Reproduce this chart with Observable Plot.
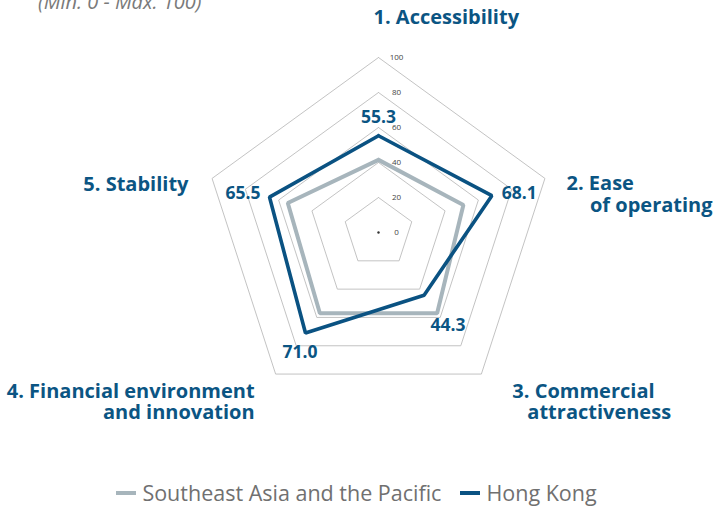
<!DOCTYPE html>
<html>
<head>
<meta charset="utf-8">
<script src="https://cdn.jsdelivr.net/npm/d3@7"></script>
<script src="https://cdn.jsdelivr.net/npm/@observablehq/plot@0.6"></script>
<style>
  html, body { margin: 0; padding: 0; background: #fff; }
  body { width: 713px; height: 508px; position: relative; overflow: hidden; font-family: "Open Sans", sans-serif; }
  #subtitle { position: absolute; left: 38px; top: -8px; font-size: 20px; font-style: italic; color: #7a7a7a; line-height: 20px; white-space: nowrap; }
  #legend { position: absolute; left: 0; top: 480px; width: 713px; height: 26px; display: flex; justify-content: center; align-items: center; gap: 19px; font-size: 21.5px; line-height: 26px; color: #707070; }
  #legend .item { display: flex; align-items: center; gap: 6px; }
  #legend .sw { width: 20px; height: 4px; display: inline-block; }
</style>
</head>
<body>
<div id="subtitle">(Min. 0 - Max. 100)</div>
<div id="chart"></div>
<div id="legend"></div>
<script>
// ---- data ----
const axes = ["1. Accessibility", "2. Ease of operating", "3. Commercial attractiveness", "4. Financial environment and innovation", "5. Stability"];
const seriesNames = ["Southeast Asia and the Pacific", "Hong Kong"];
const seaValues = [41.5, 51, 57, 57, 54.5];
const hkValues = [55.3, 68.1, 44.3, 71.0, 65.5];
const hkLabels = ["55.3", "68.1", "44.3", "71.0", "65.5"];
const gridLevels = [0, 20, 40, 60, 80, 100];
const tickLabels = ["0", "20", "40", "60", "80", "100"];

// ---- layout ----
const W = 713, H = 470, CX = 378, CY = 232, K = 1.75;
const colors = {"Southeast Asia and the Pacific": "#a7b5bc", "Hong Kong": "#0a5282"};
const labelBlue = "#0b5583";
const n = axes.length;
const ang = i => i * 2 * Math.PI / n;
const px = (i, v) => v * Math.sin(ang(i));
const py = (i, v) => v * Math.cos(ang(i));

function ring(values, key) {
  const pts = [];
  for (let i = 0; i <= n; i++) {
    const k = i % n;
    pts.push({x: px(k, values[k]), y: py(k, values[k]), key});
  }
  return pts;
}

const gridData = gridLevels.filter(l => l > 0).flatMap(l => ring(Array(n).fill(l), l));
const seriesData = [
  ...ring(seaValues, seriesNames[0]),
  ...ring(hkValues, seriesNames[1])
];

// axis title lines: axis index, text, anchor, dx, dy (pixel offsets from the 100-vertex)
const titleLines = [
  [0, "1. Accessibility", "start", -5, -40],
  [1, "2. Ease", "start", 21.6, 5],
  [1, "of operating", "end", 167.6, 27],
  [2, "3. Commercial", "start", 31, 18],
  [2, "attractiveness", "start", 46, 39],
  [3, "4. Financial environment", "end", -21, 18],
  [3, "and innovation", "end", -21, 39],
  [4, "5. Stability", "end", -23.6, 6]
];
// value label offsets from Hong Kong points
const valueOffsets = [
  ["middle", 0, -18],
  ["start", 10, -2],
  ["middle", 24, 30],
  ["middle", -5.5, 19.5],
  ["end", -9, -3.6]
];

const marks = [
  Plot.line(gridData, {x: "x", y: "y", z: "key", stroke: "#bcbcbc", strokeWidth: 0.9}),
  Plot.dot([0], {x: () => 0, y: () => 0, r: 1.2, fill: "#333", stroke: null}),
  Plot.text(gridLevels, {x: () => 0, y: d => d, text: (d, i) => tickLabels[i], dx: 18, fontSize: 8, fill: "#444", textAnchor: "middle"}),
  Plot.line(seriesData.filter(d => d.key === seriesNames[0]), {x: "x", y: "y", stroke: colors[seriesNames[0]], strokeWidth: 4, strokeLinejoin: "miter"}),
  Plot.line(seriesData.filter(d => d.key === seriesNames[1]), {x: "x", y: "y", stroke: colors[seriesNames[1]], strokeWidth: 3.6, strokeLinejoin: "miter"})
];

titleLines.forEach(([i, t, anchor, dx, dy]) => {
  marks.push(Plot.text([t], {x: () => px(i, 100), y: () => py(i, 100), text: d => d, textAnchor: anchor, dx, dy,
    fontSize: 20, fontWeight: "bold", fill: labelBlue}));
});
hkValues.forEach((v, i) => {
  const [anchor, dx, dy] = valueOffsets[i];
  marks.push(Plot.text([hkLabels[i]], {x: () => px(i, v), y: () => py(i, v), text: d => d, textAnchor: anchor, dx, dy,
    fontSize: 17.5, fontWeight: "bold", fill: labelBlue}));
});

const chart = Plot.plot({
  width: W, height: H, margin: 0,
  style: {fontFamily: "Open Sans, sans-serif", background: "#fff"},
  x: {domain: [-CX / K, (W - CX) / K], axis: null},
  y: {domain: [-(H - CY) / K, CY / K], axis: null},
  marks
});
document.getElementById("chart").appendChild(chart);

const legend = document.getElementById("legend");
seriesNames.forEach(s => {
  const item = document.createElement("span");
  item.className = "item";
  const sw = document.createElement("span");
  sw.className = "sw";
  sw.style.background = colors[s];
  const label = document.createElement("span");
  label.textContent = s;
  item.appendChild(sw);
  item.appendChild(label);
  legend.appendChild(item);
});
</script>
</body>
</html>
